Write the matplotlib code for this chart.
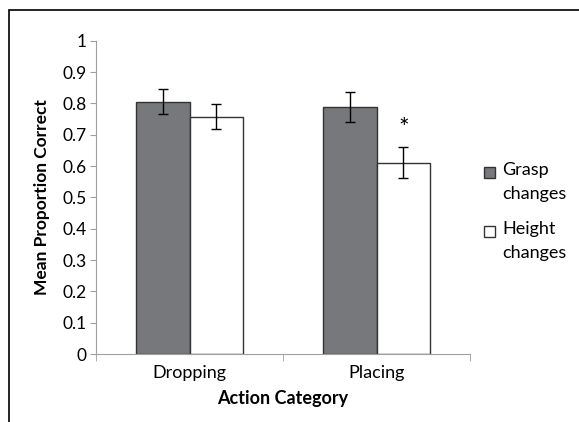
import matplotlib.pyplot as plt
from matplotlib.patches import Rectangle
import numpy as np

plt.rcParams['font.family'] = ['Lato', 'DejaVu Sans']

categories = ['Dropping', 'Placing']
series = ['Grasp\nchanges', 'Height\nchanges']
grasp = [0.805, 0.788]
grasp_err = [0.040, 0.048]
height = [0.757, 0.611]
height_err = [0.040, 0.050]
star_at = (1, 0.72)

fig = plt.figure(figsize=(5.79, 4.22), dpi=100)
# outer frame (cropped on the right and bottom in the original)
fig.patches.append(Rectangle((0.016, -0.1), 1.2, 1.076, transform=fig.transFigure,
                             fill=False, edgecolor='black', linewidth=1.2))

ax = fig.add_axes([0.166, 0.161, 0.646, 0.7425])
x = np.arange(len(categories))
w = 0.287
err_kw = dict(ecolor='black', elinewidth=1, capsize=3.5, capthick=1)
b1 = ax.bar(x - w / 2, grasp, w, yerr=grasp_err, color='#77787b',
            edgecolor='#333333', linewidth=1, error_kw=err_kw)
b2 = ax.bar(x + w / 2, height, w, yerr=height_err, color='white',
            edgecolor='#333333', linewidth=1, error_kw=err_kw)
ax.text(star_at[0] + w / 2, star_at[1], '*', ha='center', va='center', fontsize=18)

ax.set_xlim(-0.5, 1.5)
ax.set_ylim(0, 1)
ax.set_yticks(np.arange(0, 1.01, 0.1))
ax.set_yticklabels(['0'] + ['%.1f' % v for v in np.arange(0.1, 0.95, 0.1)] + ['1'])
ax.set_xticks(x)
ax.set_xticklabels(categories)
ax.set_xticks([-0.5, 0.5, 1.5], minor=True)
ax.tick_params(axis='x', which='major', length=0, labelsize=13, pad=8)
ax.tick_params(axis='x', which='minor', length=5, color='#a0a0a0', direction='out')
ax.tick_params(axis='y', length=4, color='#a0a0a0', labelsize=12.5, pad=3)
for s in ['top', 'right']:
    ax.spines[s].set_visible(False)
for s in ['left', 'bottom']:
    ax.spines[s].set_color('#a0a0a0')
ax.set_xlabel('Action Category', fontweight='bold', fontsize=13, labelpad=6)
ax.set_ylabel('Mean Proportion Correct', fontweight='bold', fontsize=12.5, labelpad=9)

# legend drawn by hand so the swatch sits beside the first line of each label
for bar, label, ytop in [(b1, series[0], 164), (b2, series[1], 223)]:
    y = 1 - ytop / 422
    fig.patches.append(Rectangle((0.836, y - 0.033), 0.019, 0.026,
                                 transform=fig.transFigure,
                                 facecolor=bar.patches[0].get_facecolor(),
                                 edgecolor='#333333', linewidth=1))
    fig.text(0.867, y + 0.004, label, ha='left', va='top', fontsize=13,
             linespacing=1.6)

fig.savefig('out.png', dpi=100)
